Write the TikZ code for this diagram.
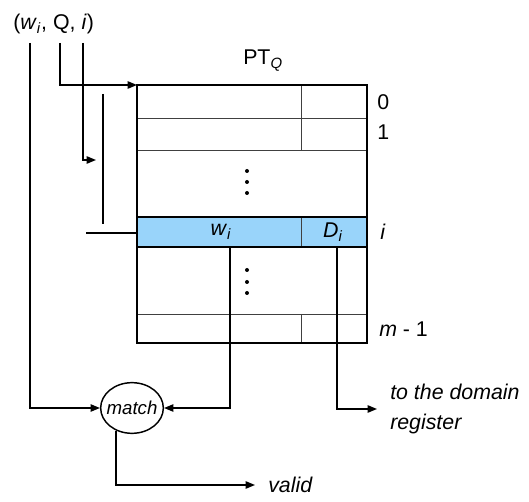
\documentclass[tikz,border=0pt]{standalone}
\usepackage{fontspec}
\setmainfont{Liberation Sans}
\usepackage{xcolor}
\usetikzlibrary{arrows.meta,positioning,shapes.geometric}
\definecolor{rowblue}{RGB}{153,212,250}
\newcommand\ivar[2]{\textit{#1}\textsubscript{\textit{#2}}}

\begin{document}
\begin{tikzpicture}[
  x=0.75pt, y=-0.75pt,
  font=\fontsize{16}{19.5}\selectfont,
  conn/.style={line width=1.1pt},
  arrow/.style={conn, -{Triangle[length=7pt,width=5.5pt]}},
  grid/.style={line width=0.6pt, draw=black!75},
  frame/.style={line width=1.6pt},
  lbl/.style={inner sep=0pt},
  note/.style={anchor=west, inner xsep=9.75pt, inner ysep=0pt, font=\fontsize{16}{22}\selectfont\itshape},
  dot/.style={circle, fill, inner sep=0pt, minimum size=3pt}
]
\useasboundingbox (0,0) rectangle (529,502);

% page table
\fill[rowblue] (137,217) rectangle (367,247);
\draw[grid] (137,118) -- (367,118) (137,150) -- (367,150) (137,314) -- (367,314);
\draw[grid] (301,85) -- (301,150) (301,217) -- (301,247) (301,314) -- (301,343);
\draw[frame] (137,217) -- (367,217) (137,247) -- (367,247);
\draw[frame] (137,85) rectangle (367,343);
\foreach \y in {171,182,193,270,282,293}
  \node[dot] at (247,\y) {};

\coordinate (tl) at (137,85);
\coordinate (rowi) at (137,233);
\coordinate (wcol) at (230,247);
\coordinate (dcol) at (337,247);

\node[lbl, anchor=base west] (pt) at (243,65) {PT\textsubscript{\textit{Q}}};
\node (wi) at (221,232) {\ivar{w}{i}};
\node (di) at (333,232) {\ivar{D}{i}};
\node[lbl, anchor=west] (r0) at (377,102) {0};
\node[lbl, anchor=west] (r1) at (377,132) {1};
\node[lbl, anchor=west] (ri) at (380,232) {\textit{i}};
\node[lbl, anchor=west] (rm) at (379,329) {\textit{m} - 1};

% input and decoder
\node[lbl, anchor=base west] (in) at (13,30) {(\ivar{w}{i}, Q, \textit{i})};
\coordinate (inw) at (30,43);
\coordinate (inq) at (60,43);
\coordinate (ini) at (83,43);
\coordinate (dec) at (96,160);
\coordinate (dectop) at (103,94);
\coordinate (decbot) at (103,224);
\coordinate (sel) at (86,233);

\node[draw, ellipse, conn, minimum width=47pt, minimum height=38pt, inner xsep=-9pt, inner ysep=0pt,
  font=\fontsize{14}{16}\selectfont\itshape] (match) at (132,408) {match};
\node[note, align=left] (dom) at (377,409) {to the domain\\register};
\node[note] (valid) at (255,485) {valid};

\draw[arrow] (inq) |- (tl);
\draw[arrow] (ini) |- (dec);
\draw[conn] (dectop) -- (decbot);
\draw[conn] (sel) -- (rowi);
\draw[arrow] (inw) |- (match.west);
\draw[arrow] (wcol) |- (match.east);
\draw[arrow] (dcol) |- (dom.west);
\draw[arrow] (match.235) |- (valid.west);
\end{tikzpicture}
\end{document}
